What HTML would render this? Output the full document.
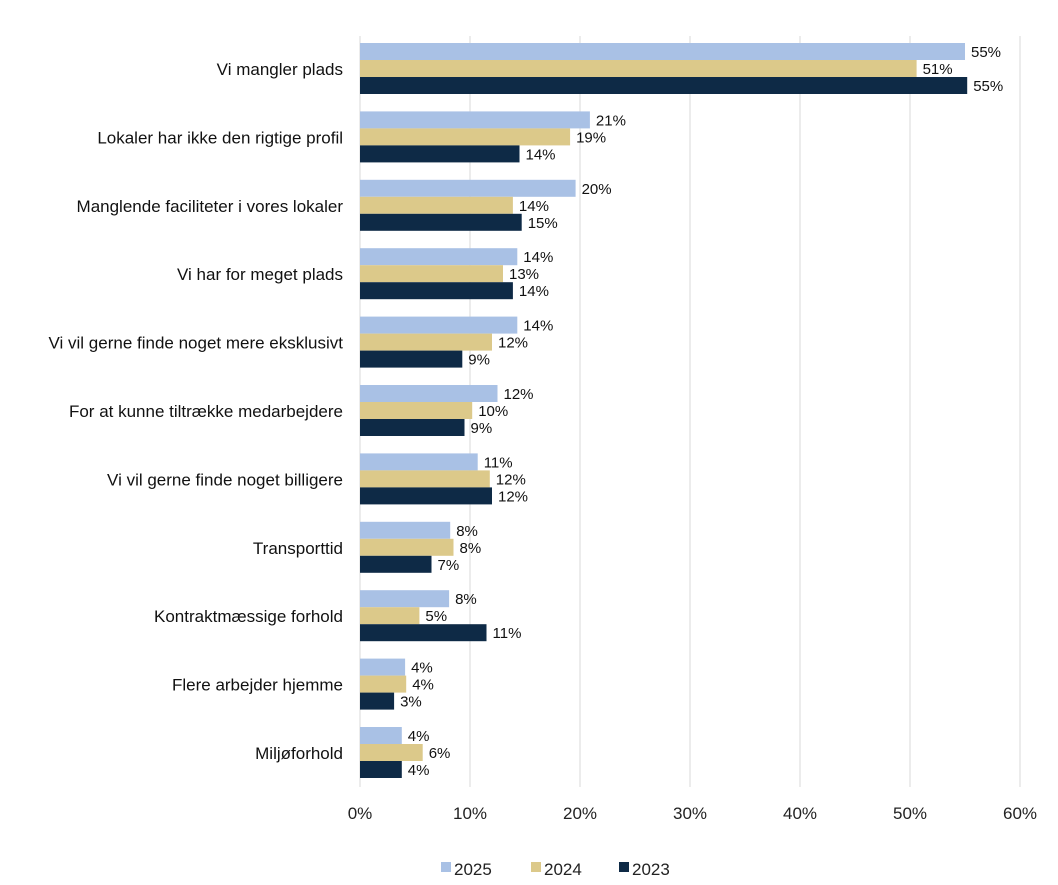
<!DOCTYPE html>
<html><head><meta charset="utf-8"><style>
body{margin:0;background:#fff;font-family:"Liberation Sans",sans-serif;}
svg{display:block}
</style></head><body>
<svg id="chart" width="1058" height="885"></svg>
<script>
const categories=["Vi mangler plads","Lokaler har ikke den rigtige profil","Manglende faciliteter i vores lokaler","Vi har for meget plads","Vi vil gerne finde noget mere eksklusivt","For at kunne tiltrække medarbejdere","Vi vil gerne finde noget billigere","Transporttid","Kontraktmæssige forhold","Flere arbejder hjemme","Miljøforhold"];
const series2025=[55,20.9,19.6,14.3,14.3,12.5,10.7,8.2,8.1,4.1,3.8];
const series2024=[50.6,19.1,13.9,13,12,10.2,11.8,8.5,5.4,4.2,5.7];
const series2023=[55.2,14.5,14.7,13.9,9.3,9.5,12,6.5,11.5,3.1,3.8];
const labels2025=["55%","21%","20%","14%","14%","12%","11%","8%","8%","4%","4%"];
const labels2024=["51%","19%","14%","13%","12%","10%","12%","8%","5%","4%","6%"];
const labels2023=["55%","14%","15%","14%","9%","9%","12%","7%","11%","3%","4%"];
const xTicks=[0,10,20,30,40,50,60];
const seriesNames=["2025","2024","2023"];
const colors=["#a9c1e5","#dcc98a","#0e2a46"];
const NS="http://www.w3.org/2000/svg";
const svg=document.getElementById("chart");
const x=v=>360+v*11;
const gy=i=>43+i*68.4;
function mk(t,a,p){const e=document.createElementNS(NS,t);for(const k in a)e.setAttribute(k,a[k]);(p||svg).appendChild(e);return e;}
xTicks.forEach(t=>{
 const l=mk("line",{x1:x(t),x2:x(t),y1:36,y2:787,stroke:"#d9d9d9","stroke-width":1});
 
 
 const tx=mk("text",{x:x(t),y:819,"text-anchor":"middle","font-size":17,fill:"#222"});
 tx.textContent=t+"%";
 
 
});
const all=[series2025,series2024,series2023];
const lbls=[labels2025,labels2024,labels2023];
categories.forEach((c,i)=>{
 const t=mk("text",{x:343,y:gy(i)+32,"text-anchor":"end","font-size":17,fill:"#111"});
 t.textContent=c;
 
 
 all.forEach((s,j)=>{
  const y=gy(i)+j*17;
  const r=mk("rect",{x:x(0),y:y,width:x(s[i])-x(0),height:17,fill:colors[j]});
  
  
  const v=mk("text",{x:x(s[i])+6,y:y+14,"font-size":15,fill:"#111"});
  v.textContent=lbls[j][i];
  
  
 });
});
const lx=[454,544,632];
seriesNames.forEach((n,j)=>{
 const r=mk("rect",{x:lx[j]-13,y:862,width:10,height:10,fill:colors[j]});
 
 
 const t=mk("text",{x:lx[j],y:875,"font-size":17,fill:"#222"});
 t.textContent=n;
 
 
});
</script>
</body></html>
